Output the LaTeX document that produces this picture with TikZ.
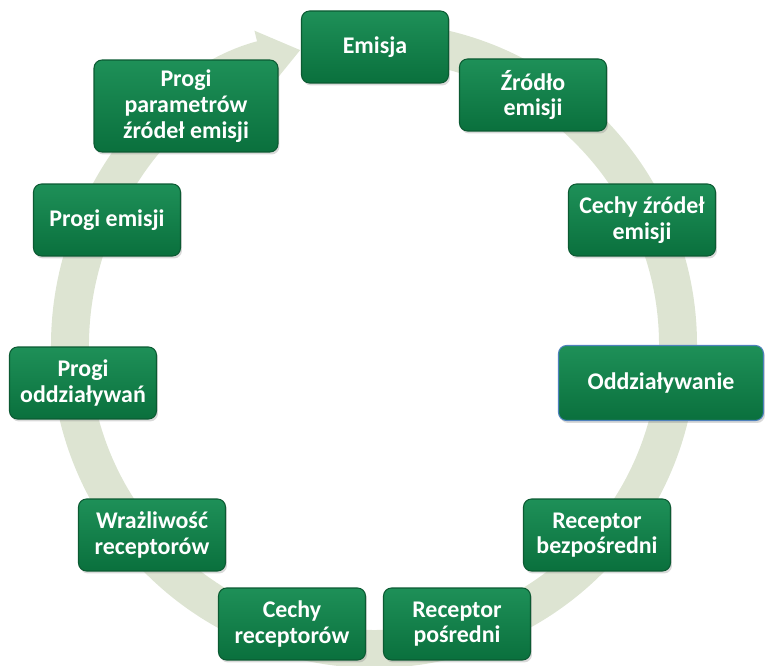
\documentclass[tikz,border=0pt]{standalone}
\usepackage{fontspec}
\setmainfont{Carlito}
\usetikzlibrary{arrows.meta,shadows}

\tikzset{
    stage/.style={rectangle, rounded corners=0.16cm, draw=borderColour, line width=0.6pt,
        top color=fillTop, bottom color=fillBottom, text=white, align=center,
        font=\fontsize{13.6}{14.6}\selectfont\bfseries,
        minimum width=2.94cm, minimum height=1.44cm, inner sep=2pt,
        drop shadow={opacity=0.3, shadow xshift=0.03cm, shadow yshift=-0.05cm}},
}

\begin{document}
\begin{tikzpicture}[x=0.02cm, y=0.02cm]
    \definecolor{borderColour}{HTML}{0B5A32}
    \definecolor{fillTop}{HTML}{1E9058}
    \definecolor{fillBottom}{HTML}{0A703D}
    \definecolor{ringColour}{HTML}{DDE4D2}
    \definecolor{blueBorder}{HTML}{4F81BD}

    \def\ringRadius{304}

    \useasboundingbox (0,0) rectangle (765,666);

    % Draw ring arrow
    \draw[ringColour, line width=0.76cm, -{Triangle[width=1.14cm, length=0.8cm]}]
        (374,321) ++(85:\ringRadius) arc[start angle=85, end angle=-256, radius=\ringRadius];

    % Stages, clockwise from the top
    \node[stage] (emisja) at (375,619) {Emisja};
    \node[stage] (zrodlo) at (533,571) {Źródło\\emisji};
    \node[stage] (cechyZrodel) at (642,446) {Cechy źródeł\\emisji};
    \node[stage, draw=blueBorder, minimum width=4.1cm, minimum height=1.5cm] (oddzialywanie) at (661,283) {Oddziaływanie};
    \node[stage] (recBezp) at (597,131) {Receptor\\bezpośredni};
    \node[stage] (recPosr) at (457,42) {Receptor\\pośredni};
    \node[stage] (cechyRec) at (292,42) {Cechy\\receptorów};
    \node[stage] (wrazliwosc) at (152,131) {Wrażliwość\\receptorów};
    \node[stage] (progiOdd) at (83,283) {Progi\\oddziaływań};
    \node[stage] (progiEmisji) at (107,446) {Progi emisji};
    \node[stage, minimum width=3.68cm, minimum height=1.84cm] (progiParam) at (186,560) {Progi\\parametrów\\źródeł emisji};

\end{tikzpicture}
\end{document}
